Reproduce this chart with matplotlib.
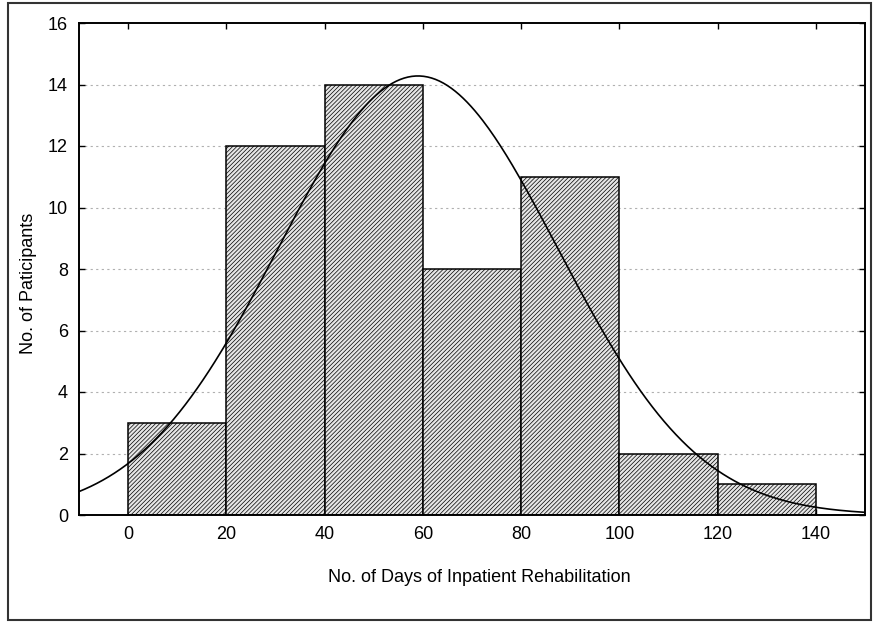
import numpy as np
import matplotlib
matplotlib.use("Agg")
import matplotlib.pyplot as plt
from matplotlib.patches import Rectangle

plt.rcParams['font.family'] = ['Liberation Sans', 'DejaVu Sans']
plt.rcParams['hatch.color'] = '#6a6a6a'
plt.rcParams['hatch.linewidth'] = 0.5

# histogram data: bin left edges and counts
bin_edges = [0, 20, 40, 60, 80, 100, 120, 140]
counts = [3, 12, 14, 8, 11, 2, 1]

# fitted normal curve parameters
fit_mean = 59.0
fit_sd = 28.5

x_ticks = [0, 20, 40, 60, 80, 100, 120, 140]
y_ticks = [0, 2, 4, 6, 8, 10, 12, 14, 16]

fig = plt.figure(figsize=(8.73, 6.26), dpi=100)
ax = fig.add_axes([79 / 873, 1 - 515 / 626, (865 - 79) / 873, (515 - 23) / 626])

# dotted grid behind the bars
for y in y_ticks[1:-1]:
    ax.axhline(y, color='#b0b0b0', lw=0.8, ls=(0, (2, 3)), zorder=0)

widths = np.diff(bin_edges)
ax.bar(bin_edges[:-1], counts, width=widths, align='edge',
       facecolor='#e6e6e6', edgecolor='black', linewidth=1.1,
       hatch='////////', zorder=2)

n_total = sum(counts)
bw = widths[0]
xs = np.linspace(-10, 150, 400)
ys = n_total * bw / (fit_sd * np.sqrt(2 * np.pi)) * np.exp(-0.5 * ((xs - fit_mean) / fit_sd) ** 2)
ax.plot(xs, ys, color='black', lw=1.2, zorder=3)

ax.set_xlim(-10, 150)
ax.set_ylim(0, 16)
ax.set_xticks(x_ticks)
ax.set_yticks(y_ticks)
ax.tick_params(direction='in', length=4, width=1, labelsize=13,
               top=True, right=True, pad=8)
for s in ax.spines.values():
    s.set_linewidth(1.4)

ax.set_xlabel('No. of Days of Inpatient Rehabilitation', fontsize=13)
ax.xaxis.set_label_coords((479 - 79) / 786, -(569 - 515) / 492)
ax.set_ylabel('No. of Paticipants', fontsize=13)
ax.yaxis.set_label_coords(-(79 - 37) / 786, (515 - 283) / 492)

# outer frame around the whole chart
fig.patches.append(Rectangle((8 / 873, 1 - 620 / 626), (871 - 8) / 873, (620 - 3) / 626,
                             transform=fig.transFigure, fill=False,
                             edgecolor='#333333', lw=1.5))

fig.savefig('out.png', dpi=100)
